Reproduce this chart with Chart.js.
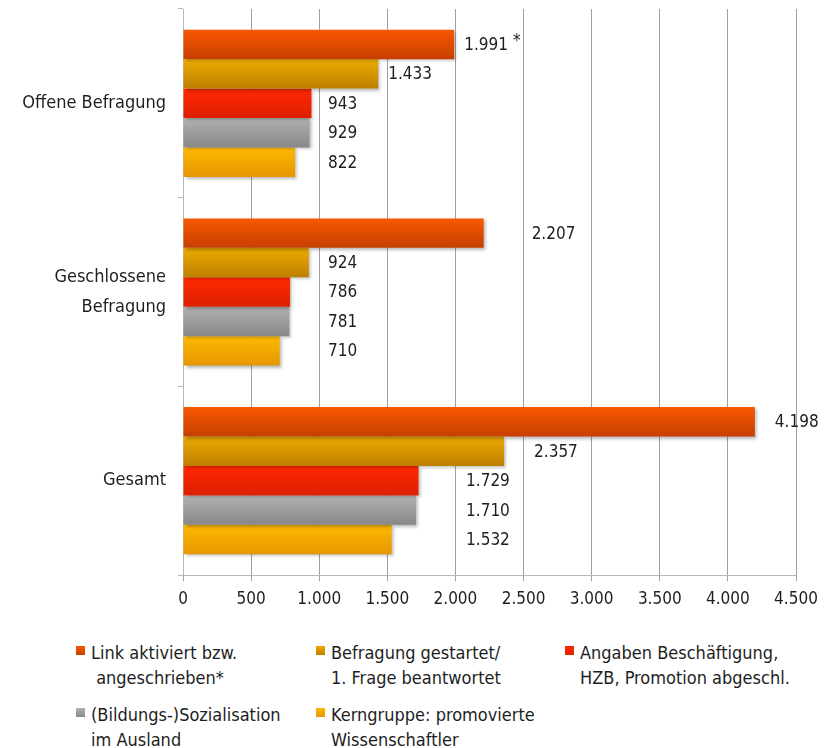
<!DOCTYPE html>
<html>
<head>
<meta charset="utf-8">
<script src="https://cdn.jsdelivr.net/npm/chart.js@4/dist/chart.umd.min.js"></script>
<style>
    body { margin: 0; background: #fff; font-family: "DejaVu Sans Condensed", "DejaVu Sans", sans-serif; color: #1e1e1e; overflow: hidden; }
    #wrap { position: relative; width: 830px; height: 625px; }
    #legend { position: absolute; top: 640px; left: 0; width: 830px; }
    .item { position: absolute; font-size: 18px; line-height: 25px; white-space: pre; }
    .box { position: absolute; left: -15px; top: 6px; width: 9px; height: 9px; }
</style>
</head>
<body>
<div id="wrap"><canvas id="chart" width="830" height="625"></canvas></div>
<div id="legend"></div>
<script>
const categories = ["Offene Befragung", ["Geschlossene", "Befragung"], "Gesamt"];

const seriesNames = [
    ["Link aktiviert bzw.", " angeschrieben*"],
    ["Befragung gestartet/", "1. Frage beantwortet"],
    ["Angaben Beschäftigung,", "HZB, Promotion abgeschl."],
    ["(Bildungs-)Sozialisation", "im Ausland"],
    ["Kerngruppe: promovierte", "Wissenschaftler"]
];

const linkAktiviert = [1991, 2207, 4198];
const befragungGestartet = [1433, 924, 2357];
const angabenBeschaeftigung = [943, 786, 1729];
const sozialisationAusland = [929, 781, 1710];
const kerngruppe = [822, 710, 1532];

const labelNotes = [["*", "", ""], ["", "", ""], ["", "", ""], ["", "", ""], ["", "", ""]];

const xTicks = [0, 500, 1000, 1500, 2000, 2500, 3000, 3500, 4000, 4500];

// top / bottom of each bar's gradient
const colors = [
    ["#f85800", "#c63f00"],
    ["#eeaa00", "#bd8000"],
    ["#ff2800", "#dd2000"],
    ["#b2b2b2", "#878787"],
    ["#ffb900", "#e69600"]
];

const allValues = [linkAktiviert, befragungGestartet, angabenBeschaeftigung, sozialisationAusland, kerngruppe];

const fmt = v => v.toLocaleString("de-DE");
const FONT = "'DejaVu Sans Condensed', 'DejaVu Sans', sans-serif";

// labels of the short bars line up in a column per category
const labelColumn = [1065, 1065, 2078];
// extra shift (px) for a few labels, key = category-dataset
const labelNudge = { "1-0": 38, "2-1": 20, "2-0": 10 };

const gradientBars = {
    id: "gradientBars",
    beforeDatasetsDraw(chart) {
        chart.data.datasets.forEach((ds, i) => {
            const meta = chart.getDatasetMeta(i);
            meta.data.forEach(el => {
                const h = el.height;
                const g = chart.ctx.createLinearGradient(0, el.y - h / 2, 0, el.y + h / 2);
                g.addColorStop(0, colors[i][0]);
                g.addColorStop(1, colors[i][1]);
                el.options = Object.assign({}, el.options, { backgroundColor: g });
            });
        });
        const ctx = chart.ctx;
        ctx.save();
        ctx.shadowColor = "rgba(0,0,0,0.28)";
        ctx.shadowOffsetX = 2;
        ctx.shadowOffsetY = 2;
        ctx.shadowBlur = 3;
    },
    afterDatasetsDraw(chart) {
        const ctx = chart.ctx;
        ctx.restore();
        const x = chart.scales.x;
        ctx.save();
        ctx.font = "17px " + FONT;
        ctx.fillStyle = "#1e1e1e";
        ctx.textBaseline = "middle";
        chart.data.datasets.forEach((ds, i) => {
            const meta = chart.getDatasetMeta(i);
            meta.data.forEach((el, j) => {
                const v = ds.data[j];
                let px = Math.max(el.x + 10, x.getPixelForValue(labelColumn[j]));
                px += labelNudge[j + "-" + i] || 0;
                const txt = fmt(v);
                ctx.fillText(txt, px, el.y + 1);
                if (labelNotes[i][j]) {
                    const w = ctx.measureText(txt).width;
                    ctx.fillText(labelNotes[i][j], px + w + 5, el.y - 3);
                }
            });
        });
        ctx.restore();
    }
};

new Chart(document.getElementById("chart"), {
    type: "bar",
    data: {
        labels: categories,
        datasets: allValues.map((d, i) => ({
            label: seriesNames[i].join(" "),
            data: d,
            backgroundColor: colors[i][0],
            borderWidth: 0,
            categoryPercentage: 0.78,
            barPercentage: 1
        }))
    },
    options: {
        indexAxis: "y",
        responsive: false,
        animation: false,
        devicePixelRatio: 1,
        layout: { padding: { top: 9, right: 34, left: 0, bottom: 0 } },
        plugins: { legend: { display: false }, tooltip: { enabled: false } },
        scales: {
            x: {
                min: 0,
                max: 4500,
                afterBuildTicks: s => { s.ticks = xTicks.map(v => ({ value: v })); },
                ticks: {
                    callback: v => fmt(v),
                    color: "#1e1e1e",
                    font: { family: FONT, size: 17 },
                    padding: 8,
                    maxRotation: 0
                },
                grid: { color: "#a0a0a0", tickLength: 6, tickColor: "#a0a0a0" },
                border: { color: "#b8b8b8" },
                afterFit: s => { s.height = 50; }
            },
            y: {
                ticks: {
                    color: "#1e1e1e",
                    font: { family: FONT, size: 18, lineHeight: 1.67 },
                    padding: 12
                },
                grid: { drawOnChartArea: false, tickLength: 5, color: "#b8b8b8" },
                border: { color: "#b8b8b8" },
                afterFit: s => { s.width = 183; s.paddingTop = 0; s.paddingBottom = 0; }
            }
        }
    },
    plugins: [gradientBars]
});

const legend = document.getElementById("legend");
const spots = [[91, 0], [331, 0], [580, 0], [91, 62], [331, 62]];
seriesNames.forEach((name, i) => {
    const div = document.createElement("div");
    div.className = "item";
    div.style.left = spots[i][0] + "px";
    div.style.top = spots[i][1] + "px";
    div.textContent = name.join("\n");
    const box = document.createElement("span");
    box.className = "box";
    box.style.background = "linear-gradient(" + colors[i][0] + "," + colors[i][1] + ")";
    div.appendChild(box);
    legend.appendChild(div);
});
</script>
</body>
</html>
